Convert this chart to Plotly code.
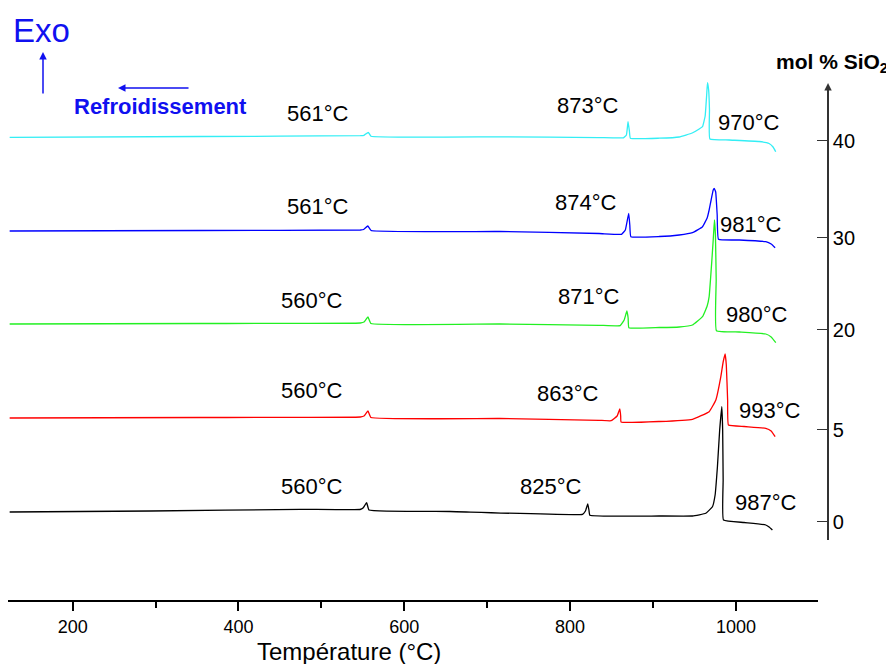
import plotly.graph_objects as go

# ---- data (temperature in °C, signal in arbitrary units, curves stacked) ----
T_40 = [124, 354, 547, 551.4, 556.6, 559.8, 715, 835, 864.3, 867.9, 869.9, 871.5, 872.7, 907.6, 931.6,
        947.3, 955.7, 959.7, 962.9, 964.7, 965.7, 967.1, 968.1, 968.6, 991.8, 1027.9, 1040, 1044.8, 1048]
S_40 = [462.7, 463.5, 464.3, 464.7, 467.7, 463.7, 463.2, 462.4, 462.2, 465, 478.3, 469, 461.7, 461.8, 463,
        467, 471, 473.3, 484, 505, 517.3, 510, 490, 461, 460, 458.5, 456.5, 453, 448.3]

T_30 = [124, 354, 547, 551, 556, 560, 715, 835, 862, 866.6, 870.7, 872, 873.3, 907.6, 931.6, 947.6, 959.7,
        965.3, 967.7, 970.1, 972.6, 973.8, 975.6, 977.4, 979, 1004, 1036, 1042.5, 1047.3]
S_30 = [369, 369.5, 370, 370.5, 374, 369.5, 368.5, 366.5, 365.7, 370, 386.7, 375, 363.3, 363.5, 365, 367.3,
        373.3, 382, 390, 400, 410, 411.7, 408, 385, 360.7, 360, 358.3, 356, 352.3]

T_20 = [124, 354, 547, 551.4, 556.2, 559.8, 715, 835, 860.4, 865.2, 868.5, 870, 870.9, 907.6, 931.6, 947.6,
        959.7, 965.3, 967.7, 971, 972.6, 974.1, 975.3, 976.2, 976.5, 1004, 1036, 1042.5, 1048.1]
S_20 = [276, 276.5, 277, 278, 283, 276.5, 276, 274.7, 274.3, 280, 289, 282, 272.3, 272.5, 273, 275,
        283.3, 294, 303.3, 340, 360, 380, 365, 320, 269.3, 268, 266, 263, 257.3]

T_5 = [124, 354, 547, 551.4, 556.2, 559.8, 715, 835, 849.5, 856.7, 860, 861, 861.5, 907.6, 947.6, 967.7,
       975.8, 981.8, 984.6, 987, 988.4, 990, 991, 1009.9, 1036, 1042.5, 1047.3]
S_5 = [182, 182.5, 183, 184, 189, 182.5, 181.5, 179.7, 179.3, 184, 191, 184, 178, 178.5, 180.7, 188.3,
       200, 223.3, 238, 246, 235, 200, 175, 173.5, 171.7, 169, 163.3]

T_0 = [124, 293.9, 474.4, 546.6, 550.2, 554.6, 557.4, 654.9, 814.9, 818.5, 821.3, 822.7, 823.9, 907.6,
       947.6, 963.7, 971.7, 974.9, 977.7, 980.4, 983, 984, 984.6, 985, 1009.9, 1036, 1040, 1044]
S_0 = [88, 89, 90.7, 90.5, 92, 97.3, 90, 88.5, 85.7, 89, 96, 90, 84.7, 84, 84, 86.7, 93.3, 105, 133.3,
       170, 193.3, 170, 120, 80, 77.5, 75, 73, 70]

curves = [
    (T_0, S_0, "black"),
    (T_5, S_5, "#ff0000"),
    (T_20, S_20, "#22f022"),
    (T_30, S_30, "#0000ff"),
    (T_40, S_40, "#33eef5"),
]

# peak labels: (text, T position, signal position)
peak_labels = [
    ("561°C", 496, 487), ("873°C", 821, 495), ("970°C", 1016, 478),
    ("561°C", 496, 394), ("874°C", 819.7, 398), ("981°C", 1018, 376),
    ("560°C", 488.8, 300), ("871°C", 823.3, 304), ("980°C", 1025.5, 286),
    ("560°C", 488.8, 210), ("863°C", 796.9, 207), ("993°C", 1041.2, 190),
    ("560°C", 488.8, 114), ("825°C", 776.4, 114), ("987°C", 1036.4, 98),
]

# right-hand composition axis
sio2_pos = [78, 170, 270, 362, 459]
sio2_labels = ["0", "5", "20", "30", "40"]

x_ticks = [200, 400, 600, 800, 1000]

FONT = "Liberation Sans, Arial, sans-serif"

fig = go.Figure()
for T, S, c in curves:
    fig.add_trace(go.Scatter(x=T, y=S, mode="lines",
                             line=dict(color=c, width=1.3, shape="spline", smoothing=0.3),
                             showlegend=False, hoverinfo="skip"))

# dummy trace to activate yaxis2 (composition axis)
fig.add_trace(go.Scatter(x=[None], y=[None], xaxis="x", yaxis="y2", showlegend=False, hoverinfo="skip"))

ann = []
for txt, t, s in peak_labels:
    ann.append(dict(x=t, y=s, xref="x", yref="y", text=txt, showarrow=False,
                    xanchor="center", yanchor="middle",
                    font=dict(family=FONT, size=22, color="black")))

BLUE = "#1010f0"
ann += [
    dict(x=0.0395, y=0.9661, xref="paper", yref="paper", text="Exo", showarrow=False,
         xanchor="center", yanchor="middle", font=dict(family=FONT, size=33, color=BLUE)),
    dict(x=0.04187, y=0.9288, xref="paper", yref="paper", text="", showarrow=True,
         ax=0, ay=43, arrowhead=2, arrowsize=1, arrowwidth=1.5, arrowcolor=BLUE),
    dict(x=0.1316, y=0.8678, xref="paper", yref="paper", text="", showarrow=True,
         ax=72, ay=0, arrowhead=2, arrowsize=1, arrowwidth=1.5, arrowcolor=BLUE),
    dict(x=0.183, y=0.8356, xref="paper", yref="paper", text="<b>Refroidissement</b>", showarrow=False,
         xanchor="center", yanchor="middle", font=dict(family=FONT, size=22, color=BLUE)),
    dict(x=0.9856, y=0.910, xref="paper", yref="paper", text="<b>mol % SiO<sub>2</sub></b>",
         showarrow=False, xanchor="center", yanchor="middle",
         font=dict(family=FONT, size=21, color="black")),
    dict(x=0.9809, y=0.8763, xref="paper", yref="paper", text="", showarrow=True,
         ax=0, ay=14, arrowhead=2, arrowsize=1, arrowwidth=1.5, arrowcolor="#333333"),
    dict(x=0.4079, y=-0.0881, xref="paper", yref="paper", text="Température (°C)", showarrow=False,
         xanchor="center", yanchor="middle", font=dict(family=FONT, size=24, color="black")),
]

fig.update_layout(
    width=886, height=656,
    margin=dict(l=0, r=50, t=2, b=64, autoexpand=False),
    plot_bgcolor="rgba(0,0,0,0)", paper_bgcolor="white",
    font=dict(family=FONT, color="black"),
    xaxis=dict(domain=[0, 0.9689], range=[122, 1099], showgrid=False, zeroline=False,
               showline=True, linecolor="black", linewidth=2, automargin=False,
               ticks="outside", ticklen=9, tickwidth=1.5, tickcolor="black",
               tickvals=x_ticks, tickfont=dict(size=18, family=FONT),
               minor=dict(tickvals=[300, 500, 700, 900, 1100], ticks="outside", ticklen=6,
                          tickwidth=1.5, tickcolor="black", showgrid=False)),
    yaxis=dict(range=[0, 590], visible=False, showgrid=False, zeroline=False, automargin=False),
    yaxis2=dict(anchor="free", position=0.9809, side="right", automargin=False,
                domain=[0.1017, 0.8729], range=[60, 515], showgrid=False, zeroline=False,
                showline=True, linecolor="#333333", linewidth=1.5,
                ticks="inside", ticklen=10, tickwidth=1.2, tickcolor="#333333",
                tickvals=sio2_pos, ticktext=sio2_labels, tickfont=dict(size=20, family=FONT)),
    annotations=ann,
)

fig.write_html("out.html")
